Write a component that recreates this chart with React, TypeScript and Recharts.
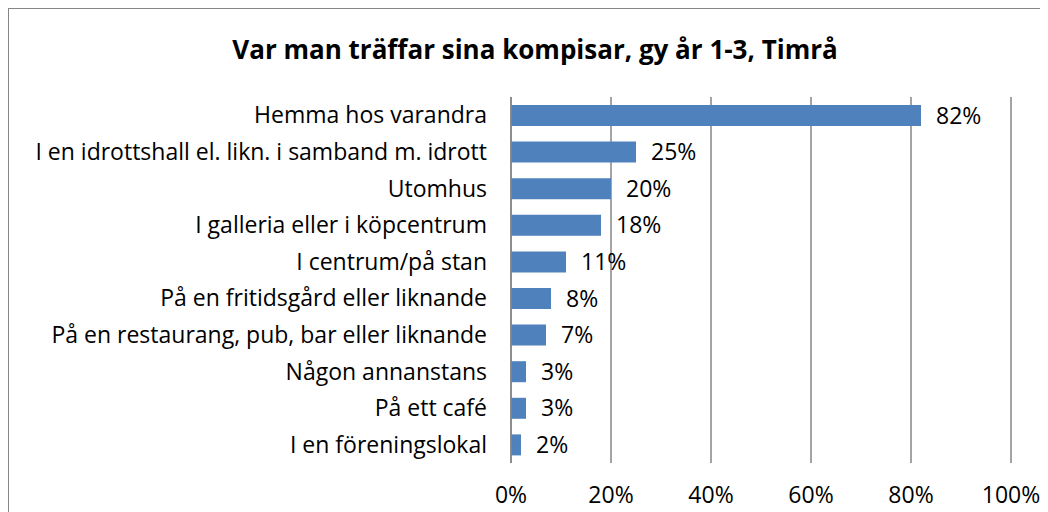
import React from "react";
import { BarChart, Bar, XAxis, YAxis, CartesianGrid, LabelList } from "recharts";

const categories = [
  "Hemma hos varandra",
  "I en idrottshall el. likn. i samband m. idrott",
  "Utomhus",
  "I galleria eller i köpcentrum",
  "I centrum/på stan",
  "På en fritidsgård eller liknande",
  "På en restaurang, pub, bar eller liknande",
  "Någon annanstans",
  "På ett café",
  "I en föreningslokal",
];
const values = [82, 25, 20, 18, 11, 8, 7, 3, 3, 2];
const xTicks = [0, 20, 40, 60, 80, 100];
const title = "Var man träffar sina kompisar, gy år 1-3, Timrå";

const data = categories.map((name, i) => ({ name, value: values[i] }));

const FONT = "'Open Sans', sans-serif";
const FS = 23;

export default function App() {
  return (
    <div
      style={{
        position: "relative",
        width: 1040,
        height: 504,
        borderTop: "1px solid #868686",
        borderLeft: "1px solid #868686",
        overflow: "hidden",
        background: "#fff",
        fontFamily: FONT,
      }}
    >
      <div
        style={{
          position: "absolute",
          left: 0,
          top: 22,
          width: 1052,
          textAlign: "center",
          fontFamily: FONT,
          fontWeight: 700,
          fontSize: 26,
          lineHeight: "36px",
          color: "#000",
          whiteSpace: "nowrap",
        }}
      >
        {title}
      </div>
      <BarChart
        width={1040}
        height={503}
        data={data}
        layout="vertical"
        margin={{ top: 88, right: 38, bottom: 0, left: 12 }}
      >
        <CartesianGrid horizontal={false} vertical={true} stroke="#868686" strokeWidth={1.5} />
        <XAxis
          type="number"
          domain={[0, 100]}
          ticks={xTicks}
          tickFormatter={(v: number) => `${v}%`}
          axisLine={false}
          tickLine={false}
          tickSize={0}
          tickMargin={24}
          height={49}
          interval={0}
          tick={{ fill: "#000", fontSize: FS, fontFamily: FONT }}
        />
        <YAxis
          type="category"
          dataKey="name"
          width={490}
          axisLine={{ stroke: "#868686", strokeWidth: 1.5 }}
          tickLine={false}
          tickSize={0}
          tickMargin={24}
          interval={0}
          tick={{ fill: "#000", fontSize: FS, fontFamily: FONT }}
        />
        <Bar dataKey="value" fill="#4F81BD" barSize={21} isAnimationActive={false}>
          <LabelList
            dataKey="value"
            position="right"
            offset={15}
            formatter={(v: number) => `${v}%`}
            fill="#000"
            fontSize={FS}
            fontFamily={FONT}
          />
        </Bar>
      </BarChart>
    </div>
  );
}
